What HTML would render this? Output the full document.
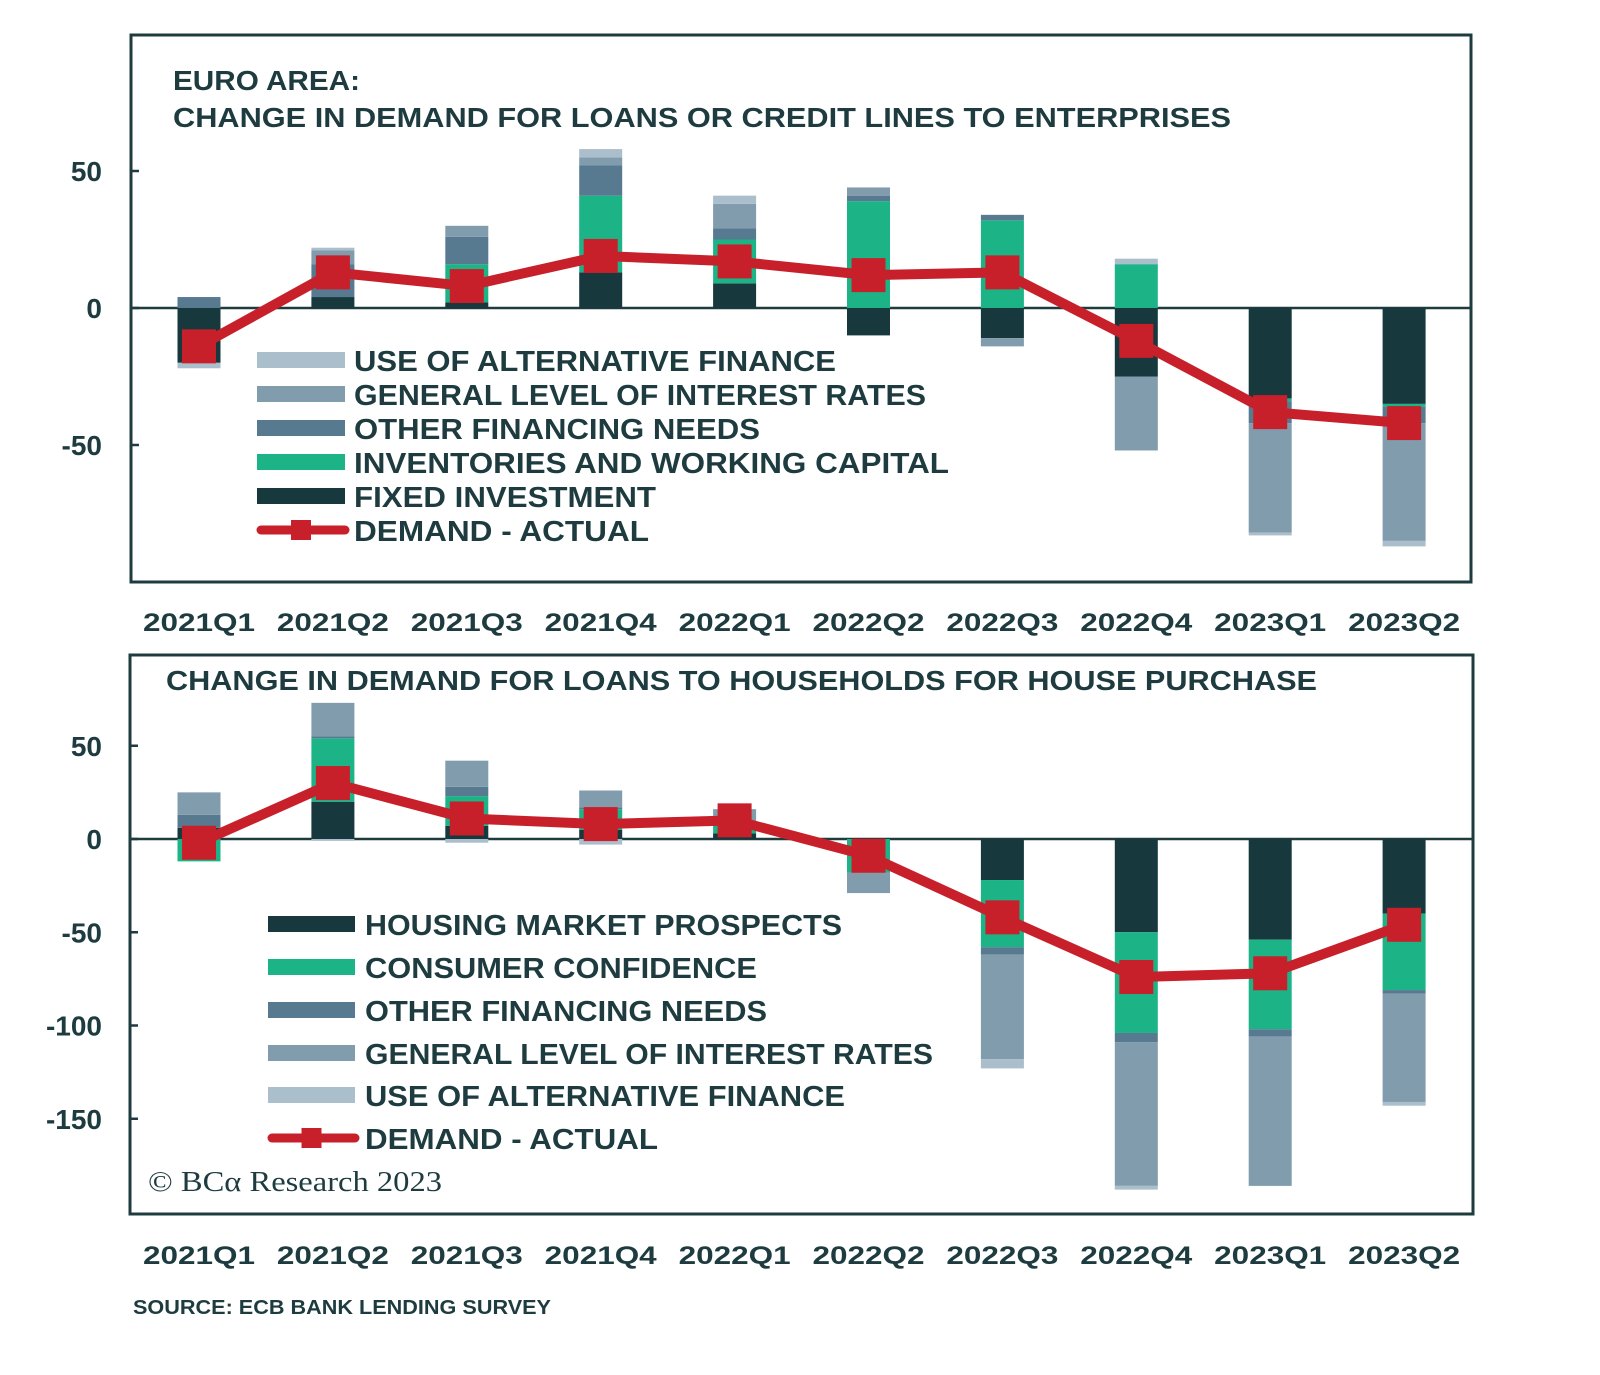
<!DOCTYPE html>
<html><head><meta charset="utf-8"><style>
html,body{margin:0;padding:0;background:#fff;}
svg{display:block;}
text{font-family:"Liberation Sans",sans-serif;font-weight:bold;fill:#1e3c3f;}
</style></head><body>
<svg id="chart" width="1600" height="1375" viewBox="0 0 1600 1375" xmlns="http://www.w3.org/2000/svg">
<rect x="0" y="0" width="1600" height="1375" fill="#fff"/>
<rect x="131" y="35" width="1340" height="547" fill="none" stroke="#1e3c3f" stroke-width="3"/>
<rect x="130" y="655" width="1343" height="559" fill="none" stroke="#1e3c3f" stroke-width="3"/>
<text x="173" y="90" font-size="28" textLength="187" lengthAdjust="spacingAndGlyphs">EURO AREA:</text>
<text x="173" y="127" font-size="28" textLength="1058" lengthAdjust="spacingAndGlyphs">CHANGE IN DEMAND FOR LOANS OR CREDIT LINES TO ENTERPRISES</text>
<text x="166" y="690" font-size="28" textLength="1151" lengthAdjust="spacingAndGlyphs">CHANGE IN DEMAND FOR LOANS TO HOUSEHOLDS FOR HOUSE PURCHASE</text>
<g id="top"></g><g id="bot"></g>
<text x="148" y="1191" font-size="28" style="font-family:'Liberation Serif',serif;font-weight:normal" textLength="294" lengthAdjust="spacingAndGlyphs">© BCα Research 2023</text>
<text x="133" y="1314" font-size="20" textLength="418" lengthAdjust="spacingAndGlyphs">SOURCE: ECB BANK LENDING SURVEY</text>
</svg>
<script>
const categories=["2021Q1","2021Q2","2021Q3","2021Q4","2022Q1","2022Q2","2022Q3","2022Q4","2023Q1","2023Q2"];
// Top chart series (stack order bottom->top)
const topFixed=[-20,4,2,13,9,-10,-11,-25,-33,-35];
const topInventories=[0,0,14,28,16,39,32,16,-1,-1];
const topOtherFin=[4,12,10,11,4,2,2,0,-8,-6];
const topInterest=[0,5,4,3,9,3,-3,-27,-40,-43];
const topAltFin=[-2,1,0,3,3,0,0,2,-1,-2];
const topDemand=[-14,13,8,19,17,12,13,-12,-38,-42];
const topTicks=[50,0,-50];
// Bottom chart series
const botHousing=[6,20,7,5,3,0,-22,-50,-54,-40];
const botConsumer=[-12,34,16,11,4,-18,-36,-54,-48,-41];
const botOtherFin=[7,1,5,1,3,0,-4,-5,-4,-2];
const botInterest=[12,18,14,9,6,-11,-56,-77,-80,-58];
const botAltFin=[0,-1,-2,-3,0,0,-5,-2,0,-2];
const botDemand=[-2,30,11,8,10,-9,-42,-74,-72,-46];
const botTicks=[50,0,-50,-100,-150];

const NS="http://www.w3.org/2000/svg";
const C={dark:"#17393d",green:"#1cb386",steel:"#577a91",grey:"#809cad",light:"#abbecb",red:"#c8202a"};
function mk(parent,tag,attrs){const e=document.createElementNS(NS,tag);for(const k in attrs)e.setAttribute(k,attrs[k]);parent.appendChild(e);return e;}
function xPos(i){return 199+i*133.9;}
function draw(g,cfg){
  const y=v=>cfg.zero-v*cfg.scale;
  const zl=mk(g,"line",{x1:cfg.left,x2:cfg.right,y1:y(0),y2:y(0),stroke:"#1e3c3f","stroke-width":2.5});
  
  
  cfg.ticks.forEach(t=>{
    const tx=mk(g,"text",{x:102,y:y(t)+10,"font-size":28,"text-anchor":"end"});tx.textContent=t;
    
    
    const tk=mk(g,"line",{x1:cfg.left,x2:cfg.left+8,y1:y(t),y2:y(t),stroke:"#1e3c3f","stroke-width":2.5});
    
    
  });
  categories.forEach((c,i)=>{
    let pos=0,neg=0;
    cfg.series.forEach(s=>{
      const v=s.data[i];if(!v)return;
      let a,b;
      if(v>0){a=pos;b=pos+v;pos=b;}else{a=neg;b=neg+v;neg=b;}
      const r=mk(g,"rect",{x:xPos(i)-21.5,width:43,y:Math.min(y(a),y(b)),height:Math.abs(y(a)-y(b)),fill:s.color});
      
      
    });
    const xl=mk(g,"text",{x:xPos(i),y:cfg.xlabY,"font-size":25,"text-anchor":"middle",textLength:112,lengthAdjust:"spacingAndGlyphs"});xl.textContent=c;
    
    
  });
  const pts=cfg.demand.map((v,i)=>xPos(i)+","+y(v)).join(" ");
  const pl=mk(g,"polyline",{points:pts,fill:"none",stroke:C.red,"stroke-width":10,"stroke-linejoin":"round"});
  
  
  cfg.demand.forEach((v,i)=>{
    const m=mk(g,"rect",{x:xPos(i)-17,y:y(v)-17,width:34,height:34,fill:C.red});
    
    
  });
  cfg.legend.forEach((L,k)=>{
    const ry=cfg.legY[k];
    if(L.line){
      const ll=mk(g,"line",{x1:cfg.swX+4,x2:cfg.swX+cfg.swW,y1:ry,y2:ry,stroke:C.red,"stroke-width":9,"stroke-linecap":"round"});
      
      
      const lm=mk(g,"rect",{x:cfg.swX+cfg.swW/2-10,y:ry-10,width:20,height:20,fill:C.red});
      
      
    } else {
      const sw=mk(g,"rect",{x:cfg.swX,y:ry-8,width:cfg.swW,height:16,fill:L.color});
      
      
    }
    const lt=mk(g,"text",{x:cfg.txX,y:ry+11,"font-size":29,textLength:L.w,lengthAdjust:"spacingAndGlyphs"});lt.textContent=L.t;
    
    
  });
}
draw(document.getElementById("top"),{zero:308,scale:2.74,left:131,right:1471,xlabY:631,ticks:topTicks,demand:topDemand,
 series:[{name:"fixed-investment",data:topFixed,color:C.dark},{name:"inventories",data:topInventories,color:C.green},{name:"other-financing",data:topOtherFin,color:C.steel},{name:"interest-rates",data:topInterest,color:C.grey},{name:"alt-finance",data:topAltFin,color:C.light}],
 swX:257,swW:88,txX:354,legY:[360,394,428,462,496,530],
 legend:[{t:"USE OF ALTERNATIVE FINANCE",color:C.light,w:482},{t:"GENERAL LEVEL OF INTEREST RATES",color:C.grey,w:572},{t:"OTHER FINANCING NEEDS",color:C.steel,w:406},{t:"INVENTORIES AND WORKING CAPITAL",color:C.green,w:595},{t:"FIXED INVESTMENT",color:C.dark,w:302},{t:"DEMAND - ACTUAL",line:true,w:295}]});
draw(document.getElementById("bot"),{zero:839,scale:1.865,left:130,right:1473,xlabY:1264,ticks:botTicks,demand:botDemand,
 series:[{name:"housing-prospects",data:botHousing,color:C.dark},{name:"consumer-confidence",data:botConsumer,color:C.green},{name:"other-financing",data:botOtherFin,color:C.steel},{name:"interest-rates",data:botInterest,color:C.grey},{name:"alt-finance",data:botAltFin,color:C.light}],
 swX:268,swW:87,txX:365,legY:[924,967,1010,1053,1095,1138],
 legend:[{t:"HOUSING MARKET PROSPECTS",color:C.dark,w:477},{t:"CONSUMER CONFIDENCE",color:C.green,w:392},{t:"OTHER FINANCING NEEDS",color:C.steel,w:402},{t:"GENERAL LEVEL OF INTEREST RATES",color:C.grey,w:568},{t:"USE OF ALTERNATIVE FINANCE",color:C.light,w:480},{t:"DEMAND - ACTUAL",line:true,w:293}]});
</script>
</body></html>
